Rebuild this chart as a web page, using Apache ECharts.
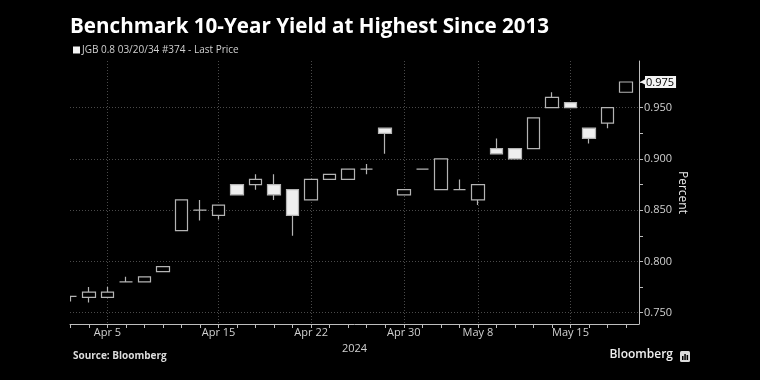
<!DOCTYPE html>
<html><head><meta charset="utf-8">
<script src="https://cdn.jsdelivr.net/npm/echarts@6/dist/echarts.min.js"></script>
<style>html,body{margin:0;padding:0;background:#000}#c{width:760px;height:380px}</style>
</head><body><div id="c"></div>
<script>
// ---- data ----
const dates = ['Apr 3','Apr 4','Apr 5','Apr 8','Apr 9','Apr 10','Apr 11','Apr 12','Apr 15','Apr 16','Apr 17','Apr 18','Apr 19','Apr 22','Apr 23','Apr 24','Apr 25','Apr 26','Apr 30','May 1','May 2','May 7','May 8','May 9','May 10','May 13','May 14','May 15','May 16','May 17','May 20'];
const opens  = [0.766,0.765,0.765,0.780,0.780,0.790,0.830,0.850,0.845,0.875,0.875,0.875,0.870,0.860,0.880,0.880,0.890,0.930,0.865,0.890,0.870,0.870,0.860,0.910,0.910,0.910,0.950,0.955,0.930,0.935,0.965];
const closes = [0.766,0.770,0.770,0.780,0.785,0.795,0.860,0.850,0.855,0.865,0.880,0.865,0.845,0.880,0.885,0.890,0.890,0.925,0.870,0.890,0.900,0.870,0.875,0.905,0.900,0.940,0.960,0.950,0.920,0.950,0.975];
const lows   = [0.761,0.760,0.765,0.780,0.780,0.790,0.830,0.840,0.841,0.865,0.870,0.860,0.825,0.860,0.880,0.880,0.885,0.905,0.865,0.890,0.870,0.870,0.855,0.905,0.900,0.910,0.950,0.950,0.915,0.930,0.965];
const highs  = [0.766,0.775,0.775,0.785,0.785,0.795,0.860,0.860,0.855,0.875,0.885,0.885,0.870,0.880,0.885,0.890,0.895,0.930,0.870,0.890,0.900,0.880,0.875,0.920,0.910,0.940,0.965,0.955,0.930,0.950,0.975];
const xTickLabels = ['Apr 5','Apr 15','Apr 22','Apr 30','May 8','May 15'];
const yTickLabels = [0.750,0.800,0.850,0.900,0.950];
const yMinorTicks = [0.750,0.775,0.800,0.825,0.850,0.875,0.900,0.925,0.950,0.975];
const seriesName = 'JGB 0.8 03/20/34 #374 - Last Price';
const titleText = 'Benchmark 10-Year Yield at Highest Since 2013';
const yearLabel = '2024';
const yName = 'Percent';

// ---- build ----
const candleData = dates.map((d, i) => [i, opens[i], closes[i], lows[i], highs[i]]);
const dayIdx = dates.map((d, i) => i);
const labelIdx = xTickLabels.map(l => dates.indexOf(l));
const lastPrice = closes[closes.length - 1];
const FONT = '"Open Sans", "Noto Sans", sans-serif';
const xMin = -0.02, xMax = 30.7, yMin = 0.739, yMax = 0.9955;
const gridLine = { show: true, lineStyle: { color: '#4a4a4a', type: [1, 2], width: 1 } };

const chart = echarts.init(document.getElementById('c'), null, { renderer: 'canvas' });
chart.setOption({
  backgroundColor: '#000',
  animation: false,
  title: {
    text: titleText, left: 70, top: 17, padding: 0,
    textStyle: { color: '#fff', fontSize: 20.6, fontWeight: 'bold', fontFamily: FONT }
  },
  legend: {
    left: 73, top: 45, padding: 0, icon: 'rect', itemWidth: 7, itemHeight: 7,
    selectedMode: false,
    textStyle: { color: '#d0d0d0', fontSize: 10, fontFamily: FONT, padding: [0, 0, 0, -3] },
    data: [{ name: seriesName, itemStyle: { color: '#f4f4f4', borderWidth: 0 } }]
  },
  grid: { left: 70, right: 121, top: 61, bottom: 56, containLabel: false },
  xAxis: [
    {
      type: 'value', position: 'bottom', min: xMin, max: xMax,
      name: yearLabel, nameLocation: 'middle', nameGap: 12,
      nameTextStyle: { color: '#d0d0d0', fontSize: 11, fontFamily: FONT },
      axisLine: { show: true, onZero: false, lineStyle: { color: '#bdbdbd', width: 1 } },
      axisTick: { show: true, length: 4, customValues: dayIdx, lineStyle: { color: '#bdbdbd' } },
      axisLabel: { show: true, customValues: labelIdx, margin: 3, color: '#d0d0d0', fontSize: 11, fontFamily: FONT,
        formatter: v => dates[Math.round(v)] },
      splitLine: { show: false }
    },
    {
      type: 'value', position: 'bottom', min: xMin, max: xMax,
      axisLine: { show: false, onZero: false },
      axisTick: { show: false, customValues: labelIdx },
      axisLabel: { show: false },
      splitLine: gridLine
    }
  ],
  yAxis: [
    {
      type: 'value', position: 'right', min: yMin, max: yMax,
      name: yName, nameLocation: 'middle', nameRotate: -90, nameGap: 37, nameMoveOverlap: false,
      nameTextStyle: { color: '#e8e8e8', fontSize: 12, fontFamily: FONT },
      axisLine: { show: true, onZero: false, lineStyle: { color: '#bdbdbd', width: 1 } },
      axisTick: { show: true, length: 4, customValues: yTickLabels, lineStyle: { color: '#bdbdbd' } },
      axisLabel: { show: true, customValues: yTickLabels, margin: 5, color: '#d0d0d0', fontSize: 11, fontFamily: FONT,
        formatter: v => v.toFixed(3) },
      splitLine: gridLine
    },
    {
      type: 'value', position: 'right', min: yMin, max: yMax,
      axisLine: { show: false, onZero: false },
      axisTick: { show: true, length: 4, customValues: yMinorTicks, lineStyle: { color: '#bdbdbd' } },
      axisLabel: {
        show: true, customValues: [lastPrice], margin: 1, fontFamily: FONT,
        formatter: v => '{a|◀}{b|' + v.toFixed(3) + '}',
        rich: {
          a: { color: '#f4f4f4', fontSize: 8, padding: [0, -1, 0, 0] },
          b: { color: '#000', backgroundColor: '#f4f4f4', fontSize: 11, padding: [1, 2, 0, 1], fontFamily: FONT }
        }
      },
      splitLine: { show: false }
    }
  ],
  series: [{
    name: seriesName, type: 'candlestick', xAxisIndex: 0, yAxisIndex: 0,
    encode: { x: 0, y: [1, 2, 3, 4] },
    barWidth: 13, clip: true,
    itemStyle: { color: '#000', borderColor: '#b4b4b4', color0: '#efefef', borderColor0: '#b4b4b4', borderWidth: 1.2 },
    data: candleData
  }],
  graphic: [
    // mask that clips the first, partly visible candle at the plot's left edge
    { type: 'rect', left: 50, top: 60, z: 100, shape: { width: 20, height: 262 }, style: { fill: '#000' } },
    { type: 'text', left: 73, top: 351, style: { text: 'Source: Bloomberg', fill: '#dcdcdc', font: 'bold 10px ' + FONT } },
    { type: 'text', right: 87, top: 349, style: { text: 'Bloomberg', fill: '#f0f0f0', font: '600 12px ' + FONT } },
    { type: 'group', left: 680, top: 351, children: [
      { type: 'rect', shape: { x: 0, y: 0, width: 10, height: 11, r: 1.5 }, style: { fill: '#dcdcdc' } },
      { type: 'rect', shape: { x: 2, y: 5, width: 1.5, height: 4 }, style: { fill: '#000' } },
      { type: 'rect', shape: { x: 4.3, y: 3, width: 1.5, height: 6 }, style: { fill: '#000' } },
      { type: 'rect', shape: { x: 6.6, y: 4, width: 1.5, height: 5 }, style: { fill: '#000' } }
    ] }
  ]
});
</script></body></html>
